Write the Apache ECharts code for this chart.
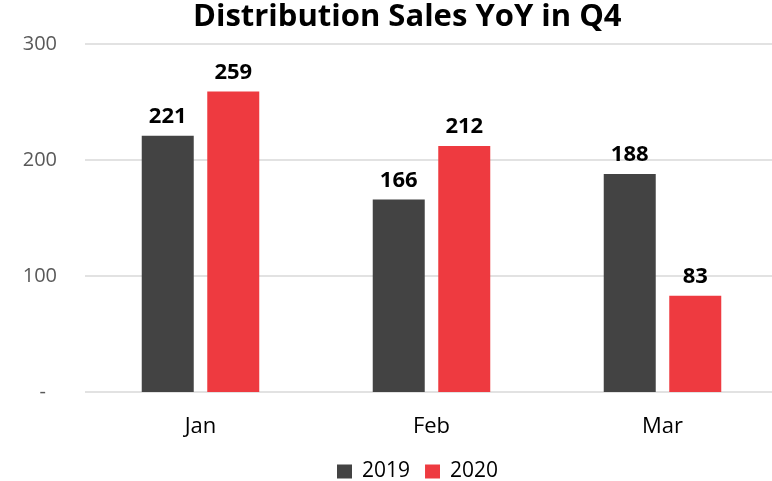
<!DOCTYPE html>
<html><head><meta charset="utf-8">
<script src="https://cdn.jsdelivr.net/npm/echarts@6/dist/echarts.min.js"></script>
<style>html,body{margin:0;padding:0;background:#fff;overflow:hidden}#c{width:778px;height:481px}</style>
</head><body><div id="c"></div>
<script>
const categories = ['Jan', 'Feb', 'Mar'];
const sales2019 = [221, 166, 188];
const sales2020 = [259, 212, 83];
const yTicks = [0, 100, 200, 300];
const FONT = '"Open Sans", Lato, sans-serif';
const chart = echarts.init(document.getElementById('c'));
chart.setOption({
  animation: false,
  backgroundColor: '#fff',
  title: {
    text: 'Distribution Sales YoY in Q4', left: 193, top: 2, padding: 0,
    textStyle: { fontFamily: FONT, fontWeight: 'bold', fontSize: 31, color: '#000' }
  },
  legend: {
    top: 461, left: 337, padding: 0, itemWidth: 15, itemHeight: 14, itemGap: 15,
    icon: 'rect',
    textStyle: { fontFamily: FONT, fontSize: 21, color: '#000', padding: [0, 0, 0, 5] },
    data: ['2019', '2020']
  },
  grid: { left: 85, right: 0, top: 44, bottom: 89 },
  xAxis: {
    type: 'category', data: categories,
    axisLine: { show: false }, axisTick: { show: false },
    axisLabel: { fontFamily: FONT, fontSize: 22, color: '#000', margin: 24 }
  },
  yAxis: {
    type: 'value', min: yTicks[0], max: yTicks[yTicks.length - 1], interval: 100,
    axisLine: { show: false }, axisTick: { show: false },
    splitLine: { lineStyle: { color: '#d9d9d9', width: 1.5 } },
    axisLabel: {
      fontFamily: FONT, fontSize: 20, color: '#595959', margin: 28,
      formatter: v => v === 0 ? '{d|-}' : String(v),
      rich: { d: { fontFamily: FONT, fontSize: 20, color: '#595959', padding: [0, 11, 0, 0] } }
    }
  },
  series: [
    {
      name: '2019', type: 'bar', data: sales2019, barWidth: 52, barGap: '26%',
      itemStyle: { color: '#434343' },
      label: { show: true, position: 'top', distance: 8, fontFamily: FONT, fontWeight: 'bold', fontSize: 22, color: '#000' }
    },
    {
      name: '2020', type: 'bar', data: sales2020, barWidth: 52,
      itemStyle: { color: '#ee3a40' },
      label: { show: true, position: 'top', distance: 8, fontFamily: FONT, fontWeight: 'bold', fontSize: 22, color: '#000' }
    }
  ]
});
</script></body></html>
